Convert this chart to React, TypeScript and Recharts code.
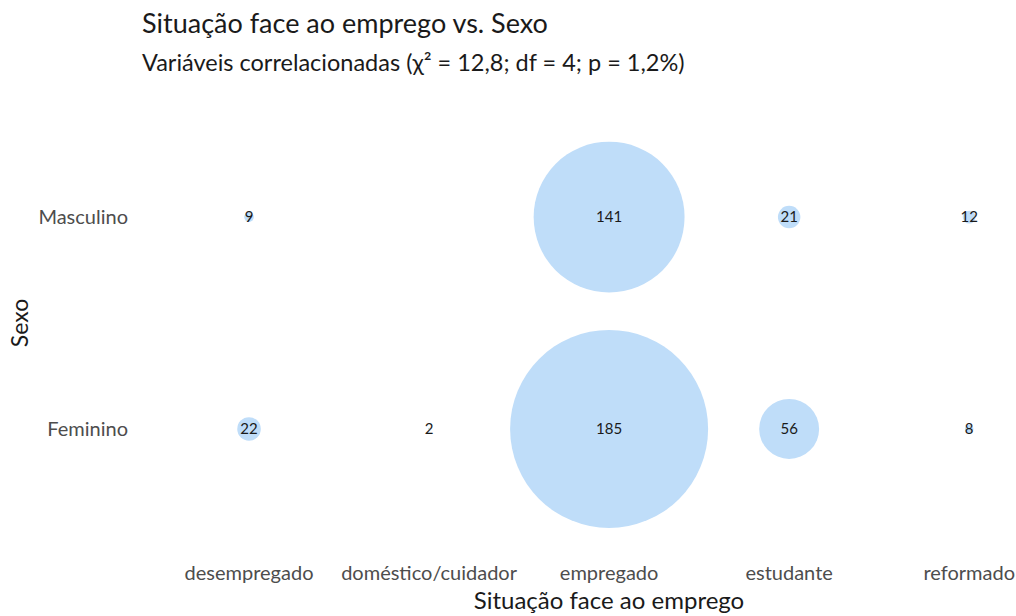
import {
  ScatterChart,
  Scatter,
  XAxis,
  YAxis,
  LabelList,
  Label,
} from "recharts";

const situacoes = [
  "desempregado",
  "doméstico/cuidador",
  "empregado",
  "estudante",
  "reformado",
];
const sexos = ["Feminino", "Masculino"];

// contagens por situação (null = sem observações)
const feminino: (number | null)[] = [22, 2, 185, 56, 8];
const masculino: (number | null)[] = [9, null, 141, 21, 12];

const FONT = "Lato, 'Open Sans', sans-serif";
const BUBBLE_COLOR = "#bfddf9";
const MAX_RADIUS = 99;

const points = [feminino, masculino].flatMap((serie, si) =>
  serie
    .map((count, xi) => ({ x: xi + 1, y: si + 1, count }))
    .filter((p) => p.count !== null)
);

const maxCount = Math.max(...points.map((p) => p.count as number));

const Bubble = (props: any) => {
  const { cx, cy, payload } = props;
  const r = (payload.count / maxCount) * MAX_RADIUS;
  return <circle cx={cx} cy={cy} r={r} fill={BUBBLE_COLOR} />;
};

export default function App() {
  return (
    <div
      style={{
        position: "absolute",
        left: 0,
        top: 0,
        width: 1016,
        height: 616,
        background: "#fff",
        fontFamily: FONT,
      }}
    >
      <div
        style={{
          position: "absolute",
          left: 142,
          top: 9,
          fontSize: 27,
          lineHeight: "27px",
          color: "#1a1a1a",
          whiteSpace: "nowrap",
        }}
      >
        Situação face ao emprego vs. Sexo
      </div>
      <div
        style={{
          position: "absolute",
          left: 142,
          top: 51,
          fontSize: 23.5,
          lineHeight: "23.5px",
          color: "#1a1a1a",
          whiteSpace: "nowrap",
        }}
      >
        Variáveis correlacionadas (χ² = 12,8; df = 4; p = 1,2%)
      </div>
      <ScatterChart
        width={1016}
        height={616}
        margin={{ top: 90, right: 0, bottom: 0, left: 0 }}
        style={{ position: "absolute", left: 0, top: 0 }}
      >
        <XAxis
          type="number"
          dataKey="x"
          domain={[0.4, 5.26]}
          ticks={[1, 2, 3, 4, 5]}
          interval={0}
          allowDataOverflow
          tickFormatter={(v: number) => situacoes[v - 1]}
          axisLine={false}
          tickLine={false}
          tickSize={0}
          tickMargin={10}
          height={60}
          tick={{ fill: "#4d4d4d", fontSize: 20, fontFamily: FONT }}
        >
          <Label
            content={() => (
              <text
                x={609}
                y={609}
                textAnchor="middle"
                fill="#1a1a1a"
                fontSize={24}
                fontFamily={FONT}
              >
                Situação face ao emprego
              </text>
            )}
          />
        </XAxis>
        <YAxis
          type="number"
          dataKey="y"
          domain={[0.4, 2.6]}
          ticks={[1, 2]}
          interval={0}
          tickFormatter={(v: number) => sexos[v - 1]}
          axisLine={false}
          tickLine={false}
          tickSize={0}
          tickMargin={13}
          width={141}
          tick={{ fill: "#4d4d4d", fontSize: 20, fontFamily: FONT }}
        >
          <Label
            value="Sexo"
            angle={-90}
            position="insideLeft"
            offset={20}
            style={{ textAnchor: "middle", fill: "#1a1a1a", fontSize: 23, fontFamily: FONT }}
          />
        </YAxis>
        <Scatter data={points} shape={<Bubble />} isAnimationActive={false}>
          <LabelList
            dataKey="count"
            position="center"
            fill="#1a1a1a"
            fontSize={15}
            fontFamily={FONT}
          />
        </Scatter>
      </ScatterChart>
    </div>
  );
}
